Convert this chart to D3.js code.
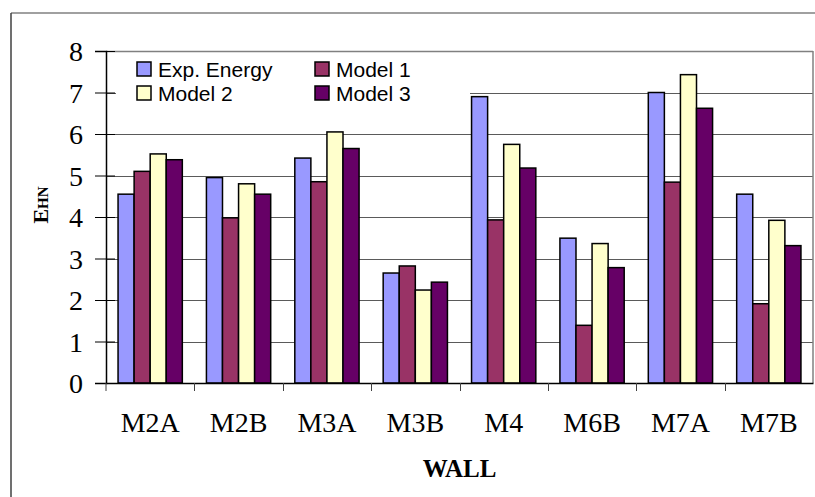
<!DOCTYPE html>
<html>
<head>
<meta charset="utf-8">
<script src="https://cdn.jsdelivr.net/npm/d3@7/dist/d3.min.js"></script>
<style>
  html, body { margin: 0; padding: 0; background: #fff; }
  svg { display: block; }
</style>
</head>
<body>
<svg id="chart" width="815" height="497"></svg>
<script>
// Wall categories and the four energy series
const walls = ["M2A", "M2B", "M3A", "M3B", "M4", "M6B", "M7A", "M7B"];
const seriesNames = ["Exp. Energy", "Model 1", "Model 2", "Model 3"];
const seriesColors = ["#9999FF", "#993366", "#FFFFCC", "#660066"];
const expEnergy = [4.55, 4.95, 5.42, 2.65, 6.90, 3.49, 7.00, 4.55];
const model1    = [5.10, 3.98, 4.85, 2.82, 3.93, 1.39, 4.84, 1.91];
const model2    = [5.52, 4.80, 6.05, 2.24, 5.75, 3.36, 7.43, 3.92];
const model3    = [5.38, 4.55, 5.65, 2.43, 5.18, 2.78, 6.62, 3.31];
const yTicks = [0, 1, 2, 3, 4, 5, 6, 7, 8];

const seriesValues = [expEnergy, model1, model2, model3];

const svg = d3.select("#chart");
const plot = { left: 106, right: 813, top: 51, bottom: 383 };
const serif = "'Liberation Serif', 'Times New Roman', serif";
const sans = "'Liberation Sans', Arial, sans-serif";

// Outer chart frame (only top and left edges fall inside the window)
svg.append("line").attr("x1", 11).attr("x2", 815).attr("y1", 13).attr("y2", 13)
  .attr("stroke", "#808080").attr("stroke-width", 1.5);
svg.append("line").attr("x1", 11).attr("x2", 11).attr("y1", 13).attr("y2", 497)
  .attr("stroke", "#404040").attr("stroke-width", 1.5);

const x0 = d3.scaleBand().domain(walls).range([plot.left, plot.right]).padding(0);
const x1 = d3.scaleBand().domain(seriesNames).range([0, x0.bandwidth()])
  .paddingInner(0).paddingOuter(0.75);
const y = d3.scaleLinear().domain([0, 8]).range([plot.bottom, plot.top]);

// Horizontal gridlines
svg.append("g").selectAll("line").data(yTicks.filter(t => t > 0)).join("line")
  .attr("x1", plot.left).attr("x2", plot.right)
  .attr("y1", d => Math.round(y(d)) + 0.5).attr("y2", d => Math.round(y(d)) + 0.5)
  .attr("stroke", d => d === 8 ? "#808080" : "#5a5a5a").attr("stroke-width", d => d === 8 ? 1.5 : 1);

// Right border of the plot area
svg.append("line").attr("x1", plot.right).attr("x2", plot.right)
  .attr("y1", plot.top).attr("y2", plot.bottom)
  .attr("stroke", "#808080").attr("stroke-width", 1.5);

// Bars
const rows = walls.map((w, i) => ({ wall: w, vals: seriesNames.map((s, j) => ({ s, j, v: seriesValues[j][i] })) }));
svg.append("g").selectAll("g").data(rows).join("g")
  .attr("transform", d => `translate(${x0(d.wall)},0)`)
  .selectAll("rect").data(d => d.vals).join("rect")
  .attr("x", d => x1(d.s))
  .attr("y", d => y(d.v))
  .attr("width", x1.bandwidth())
  .attr("height", d => y(0) - y(d.v))
  .attr("fill", d => seriesColors[d.j])
  .attr("stroke", "#000").attr("stroke-width", 1.5);

// Legend (white box over the plot)
const legend = svg.append("g");
legend.append("rect").attr("x", 116).attr("y", 55).attr("width", 354).attr("height", 56).attr("fill", "#fff");
const legPos = [[137, 69], [315, 69], [137, 93], [315, 93]];
seriesNames.forEach((s, j) => {
  const [lx, ly] = legPos[j];
  legend.append("rect").attr("x", lx).attr("y", ly - 7).attr("width", 14).attr("height", 14)
    .attr("fill", seriesColors[j]).attr("stroke", "#000").attr("stroke-width", 1.5);
  legend.append("text").attr("x", lx + 21).attr("y", ly + 7.5)
    .attr("font-family", sans).attr("font-size", 21).attr("fill", "#000").text(s);
});

// Y axis
const yAxis = svg.append("g").attr("transform", `translate(${plot.left},0)`)
  .call(d3.axisLeft(y).tickValues(yTicks).tickSize(11).tickPadding(12));
yAxis.select(".domain").attr("stroke", "#000").attr("stroke-width", 1.5);
yAxis.selectAll(".tick line").attr("stroke", "#000").attr("x2", -11).attr("x1", 9);
yAxis.selectAll(".tick text").attr("font-family", serif).attr("font-size", 28).attr("fill", "#000")
  .attr("x", -23).attr("dy", "0.34em");

// X axis
const xAxis = svg.append("g").attr("transform", `translate(0,${plot.bottom})`)
  .call(d3.axisBottom(x0).tickSize(0).tickPadding(0));
xAxis.select(".domain").attr("stroke", "#000").attr("stroke-width", 1.5);
xAxis.selectAll(".tick text").attr("font-family", serif).attr("font-size", 28).attr("fill", "#000")
  .attr("dy", 0).attr("y", 49);
// Category separators
svg.append("g").selectAll("line").data(walls.slice(1)).join("line")
  .attr("x1", d => Math.round(x0(d)) + 0.5).attr("x2", d => Math.round(x0(d)) + 0.5)
  .attr("y1", plot.bottom).attr("y2", plot.bottom + 8)
  .attr("stroke", "#404040").attr("stroke-width", 1);
svg.append("line").attr("x1", plot.left).attr("x2", plot.left)
  .attr("y1", plot.bottom).attr("y2", plot.bottom + 8).attr("stroke", "#404040");

// Axis titles
svg.append("text").attr("x", (plot.left + plot.right) / 2).attr("y", 477)
  .attr("text-anchor", "middle").attr("font-family", serif).attr("font-weight", "bold")
  .attr("font-size", 25).attr("fill", "#000").text("WALL");

const yTitle = svg.append("text").attr("transform", "translate(48,205) rotate(-90)")
  .attr("text-anchor", "middle").attr("font-family", serif).attr("font-weight", "bold").attr("fill", "#000");
yTitle.append("tspan").attr("font-size", 22).text("E");
yTitle.append("tspan").attr("font-size", 15).text("HN");
</script>
</body>
</html>
